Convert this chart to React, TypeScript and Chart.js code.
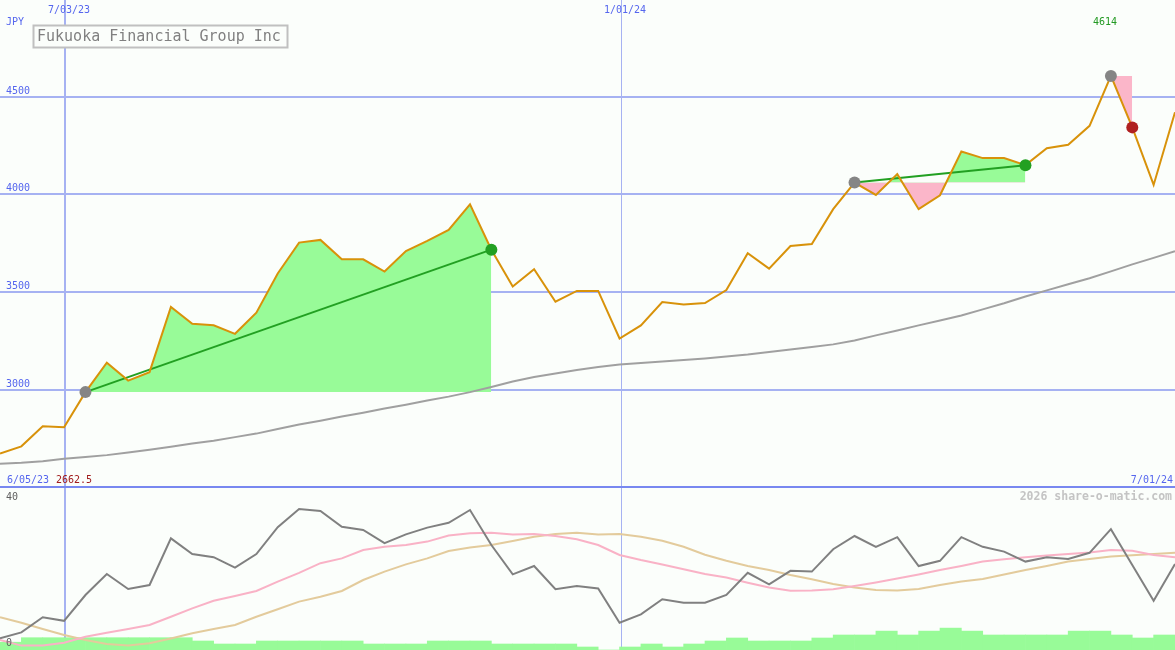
import React, { useEffect, useRef } from 'react';
import { Chart, registerables } from 'chart.js';

Chart.register(...registerables);

// ---------- data ----------
const price = [2676, 2713, 2815, 2810, 2990, 3140, 3049, 3092, 3425, 3339, 3332, 3288, 3396, 3596, 3754, 3768, 3669, 3669, 3606, 3711, 3763, 3819, 3950, 3718, 3530, 3618, 3452, 3507, 3507, 3264, 3331, 3450, 3438, 3445, 3512, 3700, 3621, 3737, 3747, 3925, 4061, 3998, 4104, 3925, 3996, 4220, 4186, 4186, 4150, 4236, 4254, 4351, 4606, 4343, 4049, 4420];

const priceMA = [2624, 2629, 2637, 2650, 2658, 2668, 2681, 2696, 2711, 2727, 2742, 2760, 2778, 2801, 2824, 2844, 2865, 2885, 2906, 2926, 2947, 2967, 2990, 3016, 3044, 3067, 3085, 3103, 3118, 3131, 3139, 3147, 3154, 3162, 3172, 3182, 3195, 3208, 3221, 3234, 3254, 3280, 3305, 3331, 3356, 3382, 3413, 3444, 3479, 3510, 3541, 3572, 3607, 3643, 3676, 3710];

const oscLine = [2.9, 4.4, 8.2, 7.3, 13.75, 19, 15.25, 16.25, 27.9, 24, 23.2, 20.6, 24, 30.7, 35.25, 34.75, 30.8, 30, 26.7, 28.9, 30.6, 31.8, 35, 26.25, 18.9, 21, 15.2, 16, 15.4, 6.8, 8.9, 12.7, 11.8, 11.8, 13.75, 19.3, 16.4, 19.8, 19.6, 25.2, 28.5, 25.8, 28.2, 21, 22.3, 28.2, 25.8, 24.6, 22.1, 23.2, 22.75, 24.3, 30.2, 21.25, 12.3, 21.5];

const oscPink = [2.5, 1.1, 1.1, 1.8, 3.3, 4.3, 5.25, 6.25, 8.3, 10.4, 12.3, 13.5, 14.75, 17.1, 19.3, 21.7, 22.9, 25, 25.8, 26.25, 27.1, 28.6, 29.2, 29.3, 28.9, 29, 28.5, 27.7, 26.25, 23.75, 22.5, 21.4, 20.2, 19, 18.1, 16.8, 15.6, 14.8, 14.9, 15.2, 16, 16.9, 17.9, 18.9, 20, 21, 22.1, 22.7, 23.2, 23.6, 24, 24.4, 25, 24.8, 23.75, 23.2];

const oscTan = [8.2, 6.8, 5.25, 3.75, 2.5, 1.5, 1.1, 1.7, 2.9, 4.2, 5.25, 6.25, 8.3, 10.2, 12.1, 13.3, 14.75, 17.5, 19.6, 21.4, 22.9, 24.75, 25.6, 26.25, 27.25, 28.3, 29, 29.3, 28.9, 29, 28.3, 27.3, 25.8, 23.8, 22.3, 21, 20, 18.75, 17.7, 16.5, 15.6, 15, 14.9, 15.25, 16.25, 17.1, 17.75, 18.9, 20, 21, 22.1, 22.75, 23.4, 23.7, 24, 24.3];

const volBars = [2.6, 4.1, 4.1, 4.1, 4.1, 4.1, 4.1, 4.1, 4.1, 3, 2, 2, 3, 3, 3, 3, 3, 2, 2, 2, 3, 3, 3, 2, 2, 2, 2, 1, 0, 1, 2, 1, 2, 3, 4, 3, 3, 3, 4, 5, 5, 6.3, 5, 6.3, 7.3, 6.3, 5, 5, 5, 5, 6.3, 6.3, 5, 4, 5];

const yTicks = [3000, 3500, 4000, 4500];
const xTickIdx = [3, 29];
const xTickLabels = ['7/03/23', '1/01/24'];

const trendStart = [4, 40, 52];
const trendEnd = [23, 48, 53];

const title = 'Fukuoka Financial Group Inc';
const currency = 'JPY';
const startLabel = '6/05/23';
const endLabel = '7/01/24';
const lowLabel = '2662.5';
const highLabel = '4614';
const highIdx = 52;
const oscTopLabel = '40';
const oscBottomLabel = '0';
const watermark = '2026 share-o-matic.com';

// ---------- styles ----------
const W = 1175;
const H_TOP = 488;
const H_BOT = 162;
const BG = '#fbfefb';
const GRID = '#a6b2f2';
const AXIS_TEXT = '#5566ee';
const MONO = '"DejaVu Sans Mono", "Liberation Mono", monospace';
const GREEN_FILL = '#98fb98';
const PINK_FILL = '#fbb6c9';
const PRICE_COLOR = '#d8920a';
const TREND_GREEN = '#22a022';

const pts = (arr: number[], from = 0, to = arr.length - 1) =>
  arr.slice(from, to + 1).map((v, k) => ({ x: from + k, y: v }));

const vLine = (ctx: any, chart: any) => {
  const xs = chart.scales.x;
  ctx.fillStyle = GRID;
  xTickIdx.forEach((v, k) => {
    const px = Math.round(xs.getPixelForValue(v)) + 1;
    if (k === 0) ctx.fillRect(px - 1, 0, 2, chart.height);
    else ctx.fillRect(px, 0, 1, chart.height);
  });
};

const topPlugin = {
  id: 'topDecor',
  beforeDatasetsDraw(chart: any) {
    const { ctx } = chart;
    const ys = chart.scales.y;
    ctx.save();
    ctx.fillStyle = BG;
    ctx.fillRect(0, 0, chart.width, chart.height);
    ctx.fillStyle = GRID;
    yTicks.forEach((v) => {
      const py = Math.round(ys.getPixelForValue(v));
      ctx.fillRect(0, py - 1, chart.width, 2);
    });
    vLine(ctx, chart);
    ctx.restore();
  },
  afterDatasetsDraw(chart: any) {
    const { ctx } = chart;
    const xs = chart.scales.x;
    const ys = chart.scales.y;
    ctx.save();
    ctx.textBaseline = 'alphabetic';
    ctx.textAlign = 'left';
    ctx.font = `10px ${MONO}`;
    ctx.fillStyle = AXIS_TEXT;
    ctx.fillText(currency, 6, 25);
    yTicks.forEach((v) => {
      const py = Math.round(ys.getPixelForValue(v));
      ctx.fillText(String(v), 6, py - 3);
    });
    xTickIdx.forEach((v, k) => {
      const px = Math.round(xs.getPixelForValue(v)) + 1;
      ctx.fillText(xTickLabels[k], px - 17, 13);
    });
    // divider
    ctx.fillStyle = '#7888f0';
    ctx.fillRect(0, chart.height - 2, chart.width, 2);
    // bottom labels
    ctx.fillStyle = AXIS_TEXT;
    ctx.fillText(startLabel, 7, 483);
    ctx.textAlign = 'right';
    ctx.fillText(endLabel, chart.width - 2, 483);
    ctx.textAlign = 'left';
    ctx.fillStyle = '#a01c1c';
    ctx.fillText(lowLabel, 56, 483);
    // high label
    ctx.fillStyle = '#229922';
    ctx.fillText(highLabel, Math.round(xs.getPixelForValue(highIdx)) - 18, 25);
    // title box
    ctx.fillStyle = BG;
    ctx.fillRect(33, 25, 254, 22);
    ctx.strokeStyle = '#c0c0c0';
    ctx.lineWidth = 2;
    ctx.strokeRect(33.5, 25.5, 254, 22);
    ctx.font = `15px ${MONO}`;
    ctx.fillStyle = '#808080';
    ctx.fillText(title, 37, 41);
    ctx.restore();
  },
};

const botPlugin = {
  id: 'botDecor',
  beforeDatasetsDraw(chart: any) {
    const { ctx } = chart;
    ctx.save();
    ctx.fillStyle = BG;
    ctx.fillRect(0, 0, chart.width, chart.height);
    vLine(ctx, chart);
    ctx.restore();
  },
  afterDatasetsDraw(chart: any) {
    const { ctx } = chart;
    ctx.save();
    ctx.textBaseline = 'alphabetic';
    ctx.font = `bold 11.5px ${MONO}`;
    ctx.fillStyle = '#c4c4c4';
    ctx.textAlign = 'right';
    ctx.fillText(watermark, chart.width - 3, 12);
    ctx.textAlign = 'left';
    ctx.font = `10px ${MONO}`;
    ctx.fillStyle = '#606060';
    ctx.fillText(oscTopLabel, 6, 12);
    ctx.fillText(oscBottomLabel, 6, 158);
    ctx.restore();
  },
};

const baseOptions = {
  animation: false,
  responsive: false,
  maintainAspectRatio: false,
  devicePixelRatio: 1,
  events: [],
  layout: { padding: 0, autoPadding: false },
  elements: { line: { tension: 0 } },
  plugins: { legend: { display: false }, tooltip: { enabled: false }, title: { display: false } },
};

export default function App() {
  const topRef = useRef<HTMLCanvasElement | null>(null);
  const botRef = useRef<HTMLCanvasElement | null>(null);

  useEffect(() => {
    if (!topRef.current || !botRef.current) return;

    const fillSets = trendStart.map((s, k) => ({
      type: 'line',
      data: pts(price, s, trendEnd[k]),
      borderWidth: 0,
      borderColor: 'rgba(0,0,0,0)',
      pointRadius: 0,
      fill: { target: { value: price[s] }, above: GREEN_FILL, below: PINK_FILL },
      order: 5,
    }));

    const trendSets = trendStart
      .map((s, k) => ({ s, e: trendEnd[k] }))
      .filter(({ s, e }) => price[e] > price[s])
      .map(({ s, e }) => ({
        type: 'line',
        data: [
          { x: s, y: price[s] },
          { x: e, y: price[e] },
        ],
        borderColor: TREND_GREEN,
        borderWidth: 2,
        pointRadius: 0,
        fill: false,
        order: 2,
      }));

    const circleData = [
      ...trendStart.map((i) => ({ x: i, y: price[i] })),
      ...trendEnd.map((i) => ({ x: i, y: price[i] })),
    ];
    const circleColors = [
      ...trendStart.map(() => '#858585'),
      ...trendEnd.map((e, k) => (price[e] >= price[trendStart[k]] ? TREND_GREEN : '#b02020')),
    ];

    const top = new Chart(topRef.current, {
      type: 'line',
      data: {
        datasets: [
          {
            data: circleData,
            showLine: false,
            pointRadius: 6,
            pointBackgroundColor: circleColors,
            pointBorderWidth: 0,
            pointBorderColor: 'rgba(0,0,0,0)',
            order: 0,
          },
          {
            data: pts(price),
            borderColor: PRICE_COLOR,
            borderWidth: 2,
            pointRadius: 0,
            fill: false,
            order: 1,
          },
          ...trendSets,
          {
            data: pts(priceMA),
            borderColor: '#a0a0a0',
            borderWidth: 2,
            pointRadius: 0,
            fill: false,
            order: 3,
          },
          ...fillSets,
        ] as any,
      },
      options: {
        ...baseOptions,
        scales: {
          x: { type: 'linear', display: false, min: 0, max: price.length - 1, offset: false },
          y: { type: 'linear', display: false, min: 2500, max: 4994 },
        },
      } as any,
      plugins: [topPlugin],
    });

    const bot = new Chart(botRef.current, {
      type: 'line',
      data: {
        datasets: [
          {
            data: pts(oscLine),
            borderColor: '#808080',
            borderWidth: 2,
            pointRadius: 0,
            fill: false,
            order: 0,
          },
          {
            data: pts(oscPink),
            borderColor: '#f9b2c6',
            borderWidth: 2,
            pointRadius: 0,
            fill: false,
            order: 1,
          },
          {
            data: pts(oscTan),
            borderColor: '#e3cb9c',
            borderWidth: 2,
            pointRadius: 0,
            fill: false,
            order: 2,
          },
          {
            type: 'bar',
            data: volBars.map((v, j) => ({ x: j + 0.5, y: v })),
            backgroundColor: GREEN_FILL,
            borderWidth: 0,
            barPercentage: 1,
            categoryPercentage: 1,
            yAxisID: 'yv',
            order: 3,
          },
        ] as any,
      },
      options: {
        ...baseOptions,
        scales: {
          x: { type: 'linear', display: false, min: 0, max: price.length - 1, offset: false },
          y: { type: 'linear', display: false, min: 0, max: 40.5 },
          yv: { type: 'linear', display: false, min: 0, max: 54, position: 'right' },
        },
      } as any,
      plugins: [botPlugin],
    });

    return () => {
      top.destroy();
      bot.destroy();
    };
  }, []);

  return (
    <div style={{ position: 'absolute', left: 0, top: 0, width: W, height: H_TOP + H_BOT, background: BG, overflow: 'hidden' }}>
      <canvas
        ref={topRef}
        width={W}
        height={H_TOP}
        style={{ position: 'absolute', left: 0, top: 0, width: W, height: H_TOP, display: 'block' }}
      />
      <canvas
        ref={botRef}
        width={W}
        height={H_BOT}
        style={{ position: 'absolute', left: 0, top: H_TOP, width: W, height: H_BOT, display: 'block' }}
      />
    </div>
  );
}
